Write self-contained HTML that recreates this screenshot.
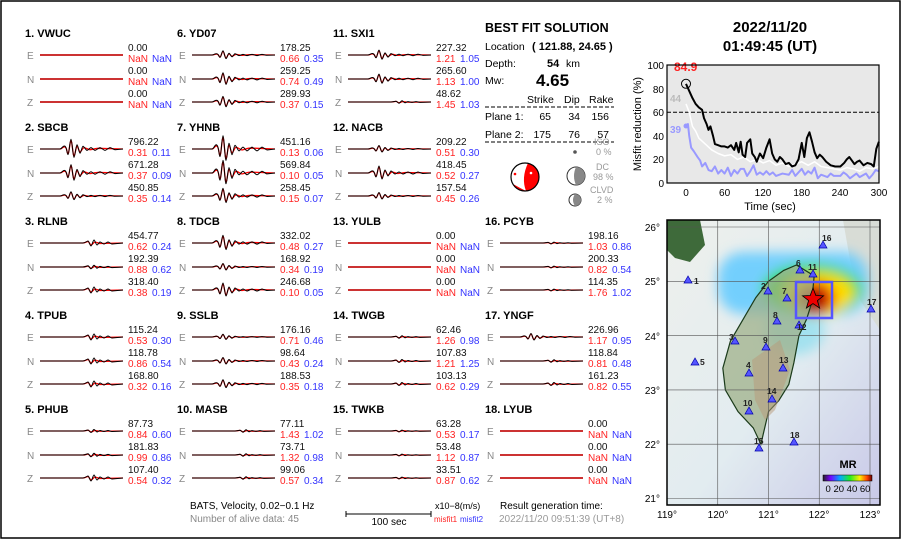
<!DOCTYPE html>
<html><head><meta charset="utf-8"><style>
html,body{margin:0;padding:0;background:#fff}
svg{display:block;font-family:"Liberation Sans",sans-serif}
.t{font-size:11px;font-weight:bold;fill:#000}
.c{font-size:10px;fill:#888}
.k{font-size:10px;fill:#111}
.r{font-size:10px;fill:#f22}
.b{font-size:10px;fill:#33f}
</style></head><body>
<svg width="902" height="541" viewBox="0 0 902 541" xmlns="http://www.w3.org/2000/svg">
<defs>
<path id="wk" vector-effect="non-scaling-stroke" d="M0,0H20C22,0 23,-3 25,-2S27,4 28,4S30,-7 31,-7S33,6 34,6S36,-3 37,-3S39,3 40,3S42,-2 43,-2S46,1 47,1S50,-1 51,-1S54,1 55,1S59,-1 60,-1S64,1 65,1S69,-1 70,-1S74,0.5 75,0.5L83,0" fill="none" stroke="#000" stroke-width="1"/>
<path id="wr" vector-effect="non-scaling-stroke" d="M0,0H20C22,0 23,-2 25,-1.5S27,3.5 28,3.5S30,-6 31,-6S33,5 34,5S36,-2 37,-2S39,2 40,2S43,-1 44,-1S49,0.5 50,0.5S56,-0.5 58,-0.5L83,0" fill="none" stroke="#f00" stroke-width="1.3"/>
<path id="vk" vector-effect="non-scaling-stroke" d="M0,0H43C45,0 47,-2 48,-2S50,3 51,3S53,-3 54,-3S56,2 57,2S59,-1 60,-1S63,1 64,1S67,-1 68,-1S71,1 72,1L83,0" fill="none" stroke="#000" stroke-width="1"/>
<path id="vr" vector-effect="non-scaling-stroke" d="M0,0H43C45,0 47,-1.5 48,-1.5S50,2 51,2S54,-1 55,-1S59,0.5 60,0.5L83,0" fill="none" stroke="#f00" stroke-width="1.3"/>
<g id="tr"><use href="#wr"/><use href="#wk"/></g>
<g id="tv"><use href="#vr"/><use href="#vk"/></g>
<g id="fl"><line x1="0" y1="0" x2="83" y2="0" stroke="#c33" stroke-width="2"/></g>
<g id="lab"><text class="c" x="2" y="22">E</text><text class="c" x="2" y="46">N</text><text class="c" x="2" y="69">Z</text></g>
</defs>
<rect x="1" y="1" width="899" height="537" fill="none" stroke="#000" stroke-width="1.5"/>

<!-- Column 1 -->
<g transform="translate(25,37)"><text class="t">1.  VWUC</text><use href="#lab"/>
<use href="#fl" transform="translate(15,18)"/><use href="#fl" transform="translate(15,42)"/><use href="#fl" transform="translate(15,65)"/>
<text class="k" x="103" y="14">0.00</text><text class="r" x="103" y="25">NaN</text><text class="b" x="127" y="25">NaN</text>
<text class="k" x="103" y="37">0.00</text><text class="r" x="103" y="48">NaN</text><text class="b" x="127" y="48">NaN</text>
<text class="k" x="103" y="60">0.00</text><text class="r" x="103" y="71">NaN</text><text class="b" x="127" y="71">NaN</text></g>
<g transform="translate(25,131)"><text class="t">2.  SBCB</text><use href="#lab"/>
<use href="#tr" transform="translate(15,18) scale(1,1.4)"/><use href="#tr" transform="translate(15,42) scale(1,1.2)"/><use href="#tr" transform="translate(15,65) scale(1,0.6)"/>
<text class="k" x="103" y="14">796.22</text><text class="r" x="103" y="25">0.31</text><text class="b" x="127" y="25">0.11</text>
<text class="k" x="103" y="37">671.28</text><text class="r" x="103" y="48">0.37</text><text class="b" x="127" y="48">0.09</text>
<text class="k" x="103" y="60">450.85</text><text class="r" x="103" y="71">0.35</text><text class="b" x="127" y="71">0.14</text></g>
<g transform="translate(25,225)"><text class="t">3.  RLNB</text><use href="#lab"/>
<use href="#tv" transform="translate(15,18)"/><use href="#tv" transform="translate(15,42) scale(1,0.6)"/><use href="#tv" transform="translate(15,65)"/>
<text class="k" x="103" y="14">454.77</text><text class="r" x="103" y="25">0.62</text><text class="b" x="127" y="25">0.24</text>
<text class="k" x="103" y="37">192.39</text><text class="r" x="103" y="48">0.88</text><text class="b" x="127" y="48">0.62</text>
<text class="k" x="103" y="60">318.40</text><text class="r" x="103" y="71">0.38</text><text class="b" x="127" y="71">0.19</text></g>
<g transform="translate(25,319)"><text class="t">4.  TPUB</text><use href="#lab"/>
<use href="#tv" transform="translate(15,18)"/><use href="#tv" transform="translate(15,42)"/><use href="#tv" transform="translate(15,65)"/>
<text class="k" x="103" y="14">115.24</text><text class="r" x="103" y="25">0.53</text><text class="b" x="127" y="25">0.30</text>
<text class="k" x="103" y="37">118.78</text><text class="r" x="103" y="48">0.86</text><text class="b" x="127" y="48">0.54</text>
<text class="k" x="103" y="60">168.80</text><text class="r" x="103" y="71">0.32</text><text class="b" x="127" y="71">0.16</text></g>
<g transform="translate(25,413)"><text class="t">5.  PHUB</text><use href="#lab"/>
<use href="#tv" transform="translate(15,18) scale(1,0.5)"/><use href="#tv" transform="translate(15,42) scale(1,0.6)"/><use href="#tv" transform="translate(15,65)"/>
<text class="k" x="103" y="14">87.73</text><text class="r" x="103" y="25">0.84</text><text class="b" x="127" y="25">0.60</text>
<text class="k" x="103" y="37">181.83</text><text class="r" x="103" y="48">0.99</text><text class="b" x="127" y="48">0.86</text>
<text class="k" x="103" y="60">107.40</text><text class="r" x="103" y="71">0.54</text><text class="b" x="127" y="71">0.32</text></g>

<!-- Column 2 -->
<g transform="translate(177,37)"><text class="t">6.  YD07</text><use href="#lab"/>
<use href="#tr" transform="translate(15,18) scale(1,0.6)"/><use href="#tr" transform="translate(15,42) scale(1,0.9)"/><use href="#tr" transform="translate(15,65) scale(1,0.8)"/>
<text class="k" x="103" y="14">178.25</text><text class="r" x="103" y="25">0.66</text><text class="b" x="127" y="25">0.35</text>
<text class="k" x="103" y="37">259.25</text><text class="r" x="103" y="48">0.74</text><text class="b" x="127" y="48">0.49</text>
<text class="k" x="103" y="60">289.93</text><text class="r" x="103" y="71">0.37</text><text class="b" x="127" y="71">0.15</text></g>
<g transform="translate(177,131)"><text class="t">7.  YHNB</text><use href="#lab"/>
<use href="#tr" transform="translate(15,18) scale(1,1.9)"/><use href="#tr" transform="translate(15,42) scale(1,1.8)"/><use href="#tr" transform="translate(15,65) scale(1,1.1)"/>
<text class="k" x="103" y="14">451.16</text><text class="r" x="103" y="25">0.13</text><text class="b" x="127" y="25">0.06</text>
<text class="k" x="103" y="37">569.84</text><text class="r" x="103" y="48">0.10</text><text class="b" x="127" y="48">0.05</text>
<text class="k" x="103" y="60">258.45</text><text class="r" x="103" y="71">0.15</text><text class="b" x="127" y="71">0.07</text></g>
<g transform="translate(177,225)"><text class="t">8.  TDCB</text><use href="#lab"/>
<use href="#tr" transform="translate(15,18) scale(1,1.1)"/><use href="#tr" transform="translate(15,42) scale(1,0.5)"/><use href="#tr" transform="translate(15,65) scale(1,1)"/>
<text class="k" x="103" y="14">332.02</text><text class="r" x="103" y="25">0.48</text><text class="b" x="127" y="25">0.27</text>
<text class="k" x="103" y="37">168.92</text><text class="r" x="103" y="48">0.34</text><text class="b" x="127" y="48">0.19</text>
<text class="k" x="103" y="60">246.68</text><text class="r" x="103" y="71">0.10</text><text class="b" x="127" y="71">0.05</text></g>
<g transform="translate(177,319)"><text class="t">9.  SSLB</text><use href="#lab"/>
<use href="#tr" transform="translate(15,18) scale(1,0.4)"/><use href="#tr" transform="translate(15,42) scale(1,0.5)"/><use href="#tr" transform="translate(15,65) scale(1,0.6)"/>
<text class="k" x="103" y="14">176.16</text><text class="r" x="103" y="25">0.71</text><text class="b" x="127" y="25">0.46</text>
<text class="k" x="103" y="37">98.64</text><text class="r" x="103" y="48">0.43</text><text class="b" x="127" y="48">0.24</text>
<text class="k" x="103" y="60">188.53</text><text class="r" x="103" y="71">0.35</text><text class="b" x="127" y="71">0.18</text></g>
<g transform="translate(177,413)"><text class="t">10.  MASB</text><use href="#lab"/>
<use href="#tv" transform="translate(15,18) scale(1,0.4)"/><use href="#tv" transform="translate(15,42) scale(1,0.4)"/><use href="#tv" transform="translate(15,65) scale(1,0.4)"/>
<text class="k" x="103" y="14">77.11</text><text class="r" x="103" y="25">1.43</text><text class="b" x="127" y="25">1.02</text>
<text class="k" x="103" y="37">73.71</text><text class="r" x="103" y="48">1.32</text><text class="b" x="127" y="48">0.98</text>
<text class="k" x="103" y="60">99.06</text><text class="r" x="103" y="71">0.57</text><text class="b" x="127" y="71">0.34</text></g>

<!-- Column 3 -->
<g transform="translate(333,37)"><text class="t">11. SXI1</text><use href="#lab"/>
<use href="#tr" transform="translate(15,18) scale(1,0.7)"/><use href="#tr" transform="translate(15,42) scale(1,0.7)"/><use href="#tv" transform="translate(15,65) scale(1,0.4)"/>
<text class="k" x="103" y="14">227.32</text><text class="r" x="103" y="25">1.21</text><text class="b" x="127" y="25">1.05</text>
<text class="k" x="103" y="37">265.60</text><text class="r" x="103" y="48">1.13</text><text class="b" x="127" y="48">1.00</text>
<text class="k" x="103" y="60">48.62</text><text class="r" x="103" y="71">1.45</text><text class="b" x="127" y="71">1.03</text></g>
<g transform="translate(333,131)"><text class="t">12. NACB</text><use href="#lab"/>
<use href="#tr" transform="translate(15,18) scale(1,0.5)"/><use href="#tr" transform="translate(15,42) scale(1,1)"/><use href="#tr" transform="translate(15,65) scale(1,0.5)"/>
<text class="k" x="103" y="14">209.22</text><text class="r" x="103" y="25">0.51</text><text class="b" x="127" y="25">0.30</text>
<text class="k" x="103" y="37">418.45</text><text class="r" x="103" y="48">0.52</text><text class="b" x="127" y="48">0.27</text>
<text class="k" x="103" y="60">157.54</text><text class="r" x="103" y="71">0.45</text><text class="b" x="127" y="71">0.26</text></g>
<g transform="translate(333,225)"><text class="t">13. YULB</text><use href="#lab"/>
<use href="#fl" transform="translate(15,18)"/><use href="#fl" transform="translate(15,42)"/><use href="#fl" transform="translate(15,65)"/>
<text class="k" x="103" y="14">0.00</text><text class="r" x="103" y="25">NaN</text><text class="b" x="127" y="25">NaN</text>
<text class="k" x="103" y="37">0.00</text><text class="r" x="103" y="48">NaN</text><text class="b" x="127" y="48">NaN</text>
<text class="k" x="103" y="60">0.00</text><text class="r" x="103" y="71">NaN</text><text class="b" x="127" y="71">NaN</text></g>
<g transform="translate(333,319)"><text class="t">14. TWGB</text><use href="#lab"/>
<use href="#tv" transform="translate(15,18) scale(1,0.4)"/><use href="#tv" transform="translate(15,42) scale(1,0.5)"/><use href="#tv" transform="translate(15,65) scale(1,0.5)"/>
<text class="k" x="103" y="14">62.46</text><text class="r" x="103" y="25">1.26</text><text class="b" x="127" y="25">0.98</text>
<text class="k" x="103" y="37">107.83</text><text class="r" x="103" y="48">1.21</text><text class="b" x="127" y="48">1.25</text>
<text class="k" x="103" y="60">103.13</text><text class="r" x="103" y="71">0.62</text><text class="b" x="127" y="71">0.29</text></g>
<g transform="translate(333,413)"><text class="t">15. TWKB</text><use href="#lab"/>
<use href="#tv" transform="translate(15,18) scale(1,0.3)"/><use href="#tv" transform="translate(15,42) scale(1,0.3)"/><use href="#tv" transform="translate(15,65) scale(1,0.3)"/>
<text class="k" x="103" y="14">63.28</text><text class="r" x="103" y="25">0.53</text><text class="b" x="127" y="25">0.17</text>
<text class="k" x="103" y="37">53.48</text><text class="r" x="103" y="48">1.12</text><text class="b" x="127" y="48">0.87</text>
<text class="k" x="103" y="60">33.51</text><text class="r" x="103" y="71">0.87</text><text class="b" x="127" y="71">0.62</text></g>

<!-- Column 4 -->
<g transform="translate(485,225)"><text class="t">16. PCYB</text><use href="#lab"/>
<use href="#tv" transform="translate(15,18) scale(1,0.3)"/><use href="#tv" transform="translate(15,42) scale(1,0.3)"/><use href="#tv" transform="translate(15,65) scale(1,0.3)"/>
<text class="k" x="103" y="14">198.16</text><text class="r" x="103" y="25">1.03</text><text class="b" x="127" y="25">0.86</text>
<text class="k" x="103" y="37">200.33</text><text class="r" x="103" y="48">0.82</text><text class="b" x="127" y="48">0.54</text>
<text class="k" x="103" y="60">114.35</text><text class="r" x="103" y="71">1.76</text><text class="b" x="127" y="71">1.02</text></g>
<g transform="translate(485,319)"><text class="t">17. YNGF</text><use href="#lab"/>
<use href="#tr" transform="translate(15,18) scale(1,0.5)"/><use href="#tv" transform="translate(15,42) scale(1,0.4)"/><use href="#tv" transform="translate(15,65) scale(1,0.5)"/>
<text class="k" x="103" y="14">226.96</text><text class="r" x="103" y="25">1.17</text><text class="b" x="127" y="25">0.95</text>
<text class="k" x="103" y="37">118.84</text><text class="r" x="103" y="48">0.81</text><text class="b" x="127" y="48">0.48</text>
<text class="k" x="103" y="60">161.23</text><text class="r" x="103" y="71">0.82</text><text class="b" x="127" y="71">0.55</text></g>
<g transform="translate(485,413)"><text class="t">18. LYUB</text><use href="#lab"/>
<use href="#fl" transform="translate(15,18)"/><use href="#fl" transform="translate(15,42)"/><use href="#fl" transform="translate(15,65)"/>
<text class="k" x="103" y="14">0.00</text><text class="r" x="103" y="25">NaN</text><text class="b" x="127" y="25">NaN</text>
<text class="k" x="103" y="37">0.00</text><text class="r" x="103" y="48">NaN</text><text class="b" x="127" y="48">NaN</text>
<text class="k" x="103" y="60">0.00</text><text class="r" x="103" y="71">NaN</text><text class="b" x="127" y="71">NaN</text></g>

<!-- Solution block -->
<text x="485" y="32" style="font-size:12.5px;font-weight:bold">BEST FIT SOLUTION</text>
<text x="485" y="50" style="font-size:10.5px">Location</text>
<text x="532" y="50" style="font-size:11px;font-weight:bold">( 121.88,  24.65 )</text>
<text x="485" y="67" style="font-size:10.5px">Depth:</text>
<text x="547" y="67" style="font-size:11px;font-weight:bold">54</text><text x="566" y="67" style="font-size:10.5px">km</text>
<text x="485" y="84" style="font-size:10.5px">Mw:</text>
<text x="536" y="86" style="font-size:17px;font-weight:bold">4.65</text>
<text x="527" y="103" style="font-size:10.5px">Strike</text><text x="564" y="103" style="font-size:10.5px">Dip</text><text x="589" y="103" style="font-size:10.5px">Rake</text>
<line x1="485" y1="107" x2="614" y2="107" stroke="#000" stroke-dasharray="4,2"/>
<text x="485" y="120" style="font-size:10.5px">Plane 1:</text><text x="551" y="120" text-anchor="end" style="font-size:10.5px">65</text><text x="580" y="120" text-anchor="end" style="font-size:10.5px">34</text><text x="609" y="120" text-anchor="end" style="font-size:10.5px">156</text>
<text x="485" y="138" style="font-size:10.5px">Plane 2:</text><text x="551" y="138" text-anchor="end" style="font-size:10.5px">175</text><text x="580" y="138" text-anchor="end" style="font-size:10.5px">76</text><text x="609" y="138" text-anchor="end" style="font-size:10.5px">57</text>
<line x1="485" y1="142" x2="614" y2="142" stroke="#000" stroke-dasharray="4,2"/>
<!-- beachball -->
<circle cx="525" cy="177" r="14" fill="#fff"/>
<path d="M528,163 Q521,178 526,191 A14,14 0 0 0 539,177 A14,14 0 0 0 528,163Z" fill="#f00"/>
<path d="M513,184 Q520,188 526,191 A14,14 0 0 1 513,184Z" fill="#f00"/>
<circle cx="525" cy="177" r="14" fill="none" stroke="#000" stroke-width="1.2"/>
<circle cx="515" cy="174" r="1.3" fill="#f00"/><circle cx="531" cy="173" r="1.3" fill="#fff"/>
<circle cx="575" cy="152" r="1.8" fill="#555"/>
<circle cx="576" cy="176" r="9" fill="#fff" stroke="#333"/><path d="M576,167 A9,9 0 0 1 576,185 Q572,176 576,167Z" fill="#888"/>
<circle cx="575" cy="200" r="6" fill="#fff" stroke="#333"/><path d="M575,194 A6,6 0 0 1 575,206 Q571,200 575,194Z" fill="#888"/>
<g style="font-size:9px;fill:#999"><text x="594" y="145">ISO</text><text x="596" y="155">0  %</text>
<text x="596" y="170">DC</text><text x="593" y="180">98 %</text>
<text x="590" y="193">CLVD</text><text x="597" y="203">2  %</text></g>

<!-- Date -->
<text x="770" y="32" text-anchor="middle" style="font-size:15px;font-weight:bold">2022/11/20</text>
<text x="770" y="51" text-anchor="middle" style="font-size:15px;font-weight:bold">01:49:45  (UT)</text>

<!-- Misfit plot -->
<rect x="667" y="65" width="212" height="118" fill="#e8e8e8"/>
<line x1="667" y1="112.2" x2="879" y2="112.2" stroke="#000" stroke-dasharray="4,2"/>
<g transform="translate(686,183) scale(0.643,-1.18)" fill="none" stroke-linejoin="round">
<polyline vector-effect="non-scaling-stroke" stroke="#99f" stroke-width="2" points="0,48 3,50 5,40 8,30 12,27 18,22 22,19 25,14 30,17 35,11 40,10 45,14 50,8 55,11 60,8 65,13 70,6 75,11 80,8 85,12 90,12 95,6 100,10 105,15 110,7 115,9 120,7 125,10 130,7 135,9 140,6 150,8 160,7 165,11 170,6 180,12 185,7 190,10 195,8 200,13 205,4 210,7 220,5 225,8 230,6 240,6 245,9 250,7 255,4 260,6 265,8 270,5 280,8 285,4 290,7 295,11 300,10"/>
<polyline vector-effect="non-scaling-stroke" stroke="#fff" stroke-width="1.5" points="0,67 5,60 10,48 15,44 20,38 30,33 40,28 50,25 60,23 70,24 80,20 90,22 100,18 110,20 120,17 130,19 140,15 150,17 160,14 170,16 180,18 190,15 200,18 210,14 220,13 230,12 240,11 250,13 260,12 270,10 280,13 290,12 300,14"/>
<polyline vector-effect="non-scaling-stroke" stroke="#000" stroke-width="2" points="0,84 5,78 10,72 15,67 20,64 25,62 28,55 32,50 35,45 38,48 42,40 45,33 50,32 55,31 60,31 65,30 70,32 75,28 78,34 82,26 85,35 88,24 92,22 95,34 100,37 103,25 107,22 110,18 115,25 120,21 125,30 130,37 134,25 138,20 142,18 146,22 150,20 155,16 160,17 165,14 170,15 175,20 180,34 184,22 188,38 192,43 196,35 200,26 204,21 208,24 212,22 218,18 225,15 232,14 240,14 246,17 250,20 254,22 258,19 262,16 266,18 270,19 276,15 282,17 288,16 292,14 296,29 300,35"/>
</g>
<circle cx="686" cy="83.8" r="4.5" fill="none" stroke="#000"/>
<text x="674" y="71" style="font-size:12px;font-weight:bold;fill:#f22">84.9</text>
<text x="670" y="102" style="font-size:10px;font-weight:bold;fill:#bbb">44</text>
<text x="670" y="133" style="font-size:10px;font-weight:bold;fill:#99f">39</text>
<circle cx="686" cy="126" r="2.5" fill="#99f"/>
<rect x="667" y="65" width="212" height="118" fill="none" stroke="#000" stroke-width="1.2"/>
<g style="font-size:10px" text-anchor="end"><text x="664" y="69">100</text><text x="664" y="93">80</text><text x="664" y="116">60</text><text x="664" y="140">40</text><text x="664" y="163">20</text><text x="664" y="187">0</text></g>
<g style="font-size:10px" text-anchor="middle"><text x="686" y="196">0</text><text x="724.6" y="196">60</text><text x="763" y="196">120</text><text x="801.7" y="196">180</text><text x="840" y="196">240</text><text x="879" y="196">300</text></g>
<text x="770" y="210" text-anchor="middle" style="font-size:11px">Time (sec)</text>
<text transform="translate(641,124) rotate(-90)" text-anchor="middle" style="font-size:11px">Misfit reduction (%)</text>

<!-- Map -->
<defs>
<clipPath id="mc"><rect x="667" y="220" width="213" height="285"/></clipPath>
<filter id="bl" x="-50%" y="-50%" width="200%" height="200%"><feGaussianBlur stdDeviation="6"/></filter>
<linearGradient id="cb" x1="0" x2="1"><stop offset="0" stop-color="#222"/><stop offset="0.15" stop-color="#70f"/><stop offset="0.35" stop-color="#0af"/><stop offset="0.55" stop-color="#2e2"/><stop offset="0.75" stop-color="#fe0"/><stop offset="0.9" stop-color="#f40"/><stop offset="1" stop-color="#600"/></linearGradient>
<linearGradient id="sea" x1="0" y1="0" x2="1" y2="1"><stop offset="0" stop-color="#eef0ec"/><stop offset="0.55" stop-color="#e2ecf0"/><stop offset="1" stop-color="#c8c8e8"/></linearGradient>
</defs>
<g clip-path="url(#mc)">
<rect x="667" y="220" width="213" height="285" fill="url(#sea)"/>
<path d="M667,220 H700 L705,245 L690,262 L675,258 L667,250Z" fill="#3e6a3a"/>
<path d="M843,220 H880 V330 L860,300 L850,260Z" fill="#d8dcd6"/>
<g filter="url(#bl)">
<rect x="718" y="252" width="150" height="62" rx="25" fill="#6cf" opacity="0.9"/>
<ellipse cx="795" cy="330" rx="30" ry="25" fill="#8de" opacity="0.7"/>
<ellipse cx="812" cy="290" rx="50" ry="26" fill="#3d3"/>
<ellipse cx="820" cy="293" rx="34" ry="20" fill="#fd0"/>
<ellipse cx="814" cy="298" rx="21" ry="17" fill="#e20"/>
<ellipse cx="812" cy="300" rx="14" ry="12" fill="#900"/>
</g>
<polygon transform="translate(667,227) scale(50.75,-54.3) translate(-119,-26)" vector-effect="non-scaling-stroke" fill="#9fb08a" fill-opacity="0.75" stroke="#1a3a1a" stroke-width="1.2" points="121.55,25.3 121.9,25.1 121.85,24.6 121.75,24.3 121.6,24.0 121.5,23.5 121.4,23.1 121.2,22.8 121.0,22.6 120.85,22.0 120.7,22.3 120.4,22.6 120.15,23.0 120.1,23.4 120.25,23.9 120.5,24.3 120.75,24.7 121.0,25.0 121.3,25.2"/>
<path d="M752,360 L780,340 L790,370 L775,410 L765,420 L755,400Z" fill="#b89a7a" opacity="0.5"/>
<g stroke="#555" stroke-width="0.6"><line x1="717.75" y1="220" x2="717.75" y2="505"/><line x1="768.5" y1="220" x2="768.5" y2="505"/><line x1="819.25" y1="220" x2="819.25" y2="505"/><line x1="870" y1="220" x2="870" y2="505"/>
<line x1="667" y1="227" x2="880" y2="227"/><line x1="667" y1="281.3" x2="880" y2="281.3"/><line x1="667" y1="335.6" x2="880" y2="335.6"/><line x1="667" y1="389.9" x2="880" y2="389.9"/><line x1="667" y1="444.2" x2="880" y2="444.2"/><line x1="667" y1="498.5" x2="880" y2="498.5"/></g>
<rect x="796" y="282" width="36" height="36" fill="none" stroke="#55f" stroke-width="2.5"/>
<polygon points="813,288 815.8,295.5 823.5,295.8 817.4,300.6 819.6,308 813,303.6 806.4,308 808.6,300.6 802.5,295.8 810.2,295.5" fill="#e00" stroke="#000" stroke-width="0.8"/>
<g fill="#55f" stroke="#00a" stroke-width="0.7">
<path d="M688,276l-4,7h8z"/><path d="M823,241l-4,7h8z"/><path d="M800,266l-4,7h8z"/><path d="M813,270l-4,7h8z"/><path d="M768,287l-4,7h8z"/><path d="M787,294l-4,7h8z"/><path d="M871,305l-4,7h8z"/><path d="M777,317l-4,7h8z"/><path d="M799,321l-4,7h8z"/><path d="M735,337l-4,7h8z"/><path d="M766,343l-4,7h8z"/><path d="M695,358l-4,7h8z"/><path d="M783,364l-4,7h8z"/><path d="M749,369l-4,7h8z"/><path d="M772,395l-4,7h8z"/><path d="M749,407l-4,7h8z"/><path d="M794,438l-4,7h8z"/><path d="M759,444l-4,7h8z"/>
</g>
<g style="font-size:8.5px;font-weight:bold;fill:#222">
<text x="694" y="284">1</text><text x="822" y="241">16</text><text x="796" y="266">6</text><text x="808" y="270">11</text><text x="761" y="289">2</text><text x="782" y="294">7</text><text x="867" y="305">17</text><text x="773" y="318">8</text><text x="797" y="330">12</text><text x="729" y="340">3</text><text x="763" y="343">9</text><text x="700" y="365">5</text><text x="779" y="363">13</text><text x="746" y="368">4</text><text x="767" y="394">14</text><text x="743" y="406">10</text><text x="790" y="438">18</text><text x="754" y="444">15</text>
</g>
<text x="848" y="468" text-anchor="middle" style="font-size:11px;font-weight:bold">MR</text>
<rect x="823" y="475" width="49" height="6" fill="url(#cb)" stroke="#000" stroke-width="0.5"/>
<text x="848" y="492" text-anchor="middle" style="font-size:9.5px">0 20 40 60</text>
</g>
<rect x="667" y="220" width="213" height="285" fill="none" stroke="#000" stroke-width="1.5"/>
<g style="font-size:10px" text-anchor="end"><text x="660" y="231">26°</text><text x="660" y="285">25°</text><text x="660" y="340">24°</text><text x="660" y="394">23°</text><text x="660" y="448">22°</text><text x="660" y="502">21°</text></g>
<g style="font-size:10px" text-anchor="middle"><text x="667" y="518">119°</text><text x="718" y="518">120°</text><text x="768.5" y="518">121°</text><text x="819" y="518">122°</text><text x="870" y="518">123°</text></g>

<!-- Footer -->
<text x="190" y="509" style="font-size:10px">BATS, Velocity, 0.02−0.1 Hz</text>
<text x="190" y="522" style="font-size:10px;fill:#888">Number of alive data: 45</text>
<line x1="346" y1="514" x2="431" y2="514" stroke="#000"/><line x1="346" y1="511" x2="346" y2="517" stroke="#000"/><line x1="431" y1="511" x2="431" y2="517" stroke="#000"/>
<text x="389" y="525" text-anchor="middle" style="font-size:10px">100 sec</text>
<text x="435" y="509" style="font-size:9px">x10−8(m/s)</text>
<text x="434" y="522" style="font-size:8px;fill:#f22">misfit1</text><text x="460" y="522" style="font-size:8px;fill:#33f">misfit2</text>
<text x="500" y="509" style="font-size:10px">Result generation time:</text>
<text x="499" y="522" style="font-size:10px;fill:#999">2022/11/20 09:51:39 (UT+8)</text>
</svg>
</body></html>
